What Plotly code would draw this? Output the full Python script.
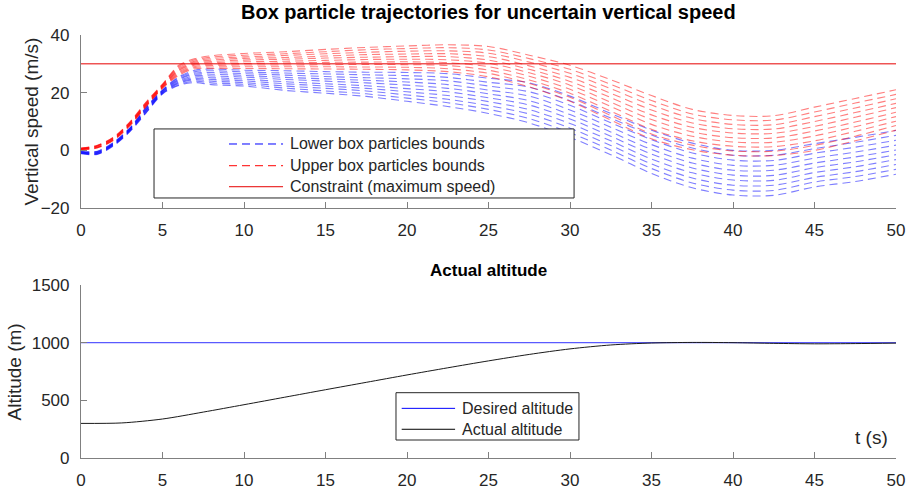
import plotly.graph_objects as go

# Sample times of the box particle bounds (s)
t_box = [0, 1, 2, 3, 4, 5, 6, 7, 8, 10, 12.5, 15, 17.5, 20, 22.5, 25,
         27.5, 30, 32.5, 35, 37.5, 40, 42.5, 45, 47.5, 50]

# Lower bounds of the vertical speed, one list per box particle (m/s)
lower_bounds = [
    [-1.2, -1.4, 1.6, 6.5, 13.0, 19.5, 22.5, 23.5, 22.8, 22.3, 20.8, 19.8, 18.7, 17.0, 15.2, 12.8, 9.5, 4.5, -1.5, -8.0, -13.0, -15.5, -15.6, -12.7, -10.8, -8.3],
    [-1.1, -1.3, 1.7, 6.6, 13.2, 19.7, 22.8, 24.0, 23.4, 22.9, 21.6, 20.6, 19.6, 18.1, 16.5, 14.2, 11.0, 6.1, 0.1, -6.3, -11.3, -13.8, -13.9, -11.0, -9.1, -6.6],
    [-1.0, -1.2, 1.9, 6.8, 13.4, 19.8, 23.2, 24.5, 24.0, 23.5, 22.3, 21.5, 20.6, 19.2, 17.7, 15.5, 12.6, 7.7, 1.7, -4.7, -9.6, -12.1, -12.1, -9.4, -7.4, -4.9],
    [-0.9, -1.0, 2.0, 6.9, 13.7, 20.0, 23.5, 24.9, 24.6, 24.1, 23.1, 22.3, 21.5, 20.3, 19.0, 16.9, 14.1, 9.3, 3.3, -3.0, -7.8, -10.3, -10.4, -7.7, -5.7, -3.2],
    [-0.8, -0.9, 2.1, 7.1, 13.9, 20.2, 23.8, 25.4, 25.2, 24.7, 23.8, 23.1, 22.4, 21.4, 20.3, 18.2, 15.7, 10.9, 4.9, -1.3, -6.1, -8.6, -8.7, -6.0, -4.0, -1.5],
    [-0.7, -0.8, 2.3, 7.2, 14.1, 20.3, 24.2, 25.9, 25.8, 25.4, 24.6, 24.0, 23.4, 22.6, 21.5, 19.6, 17.2, 12.4, 6.4, 0.3, -4.4, -6.9, -6.9, -4.4, -2.3, 0.1],
    [-0.6, -0.7, 2.4, 7.4, 14.3, 20.5, 24.5, 26.4, 26.4, 26.0, 25.3, 24.8, 24.3, 23.7, 22.8, 20.9, 18.8, 14.0, 8.0, 2.0, -2.7, -5.2, -5.2, -2.7, -0.6, 1.8],
    [-0.5, -0.5, 2.5, 7.5, 14.6, 20.7, 24.8, 26.8, 27.0, 26.6, 26.1, 25.6, 25.2, 24.8, 24.1, 22.3, 20.3, 15.6, 9.6, 3.7, -0.9, -3.4, -3.5, -1.0, 1.1, 3.5],
    [-0.4, -0.4, 2.7, 7.7, 14.8, 20.8, 25.2, 27.3, 27.6, 27.2, 26.8, 26.5, 26.2, 25.9, 25.3, 23.6, 21.9, 17.2, 11.2, 5.3, 0.8, -1.7, -1.7, 0.6, 2.8, 5.2],
    [-0.3, -0.3, 2.8, 7.8, 15.0, 21.0, 25.5, 27.8, 28.2, 27.8, 27.6, 27.3, 27.1, 27.0, 26.6, 25.0, 23.4, 18.8, 12.8, 7.0, 2.5, 0.0, 0.0, 2.3, 4.5, 6.9],
]

# Upper bounds of the vertical speed, one list per box particle (m/s)
upper_bounds = [
    [0.2, 0.8, 3.5, 8.5, 15.2, 21.5, 26.0, 28.3, 28.4, 28.4, 28.3, 28.2, 28.1, 27.9, 27.3, 25.5, 22.0, 17.0, 10.5, 4.0, 0.2, -1.7, -1.8, 0.0, 3.3, 7.0],
    [0.3, 0.9, 3.6, 8.7, 15.4, 21.7, 26.4, 28.7, 28.9, 29.0, 29.0, 29.0, 28.9, 28.8, 28.3, 26.7, 23.2, 18.4, 12.1, 5.7, 1.8, -0.2, -0.3, 1.7, 4.9, 8.6],
    [0.3, 1.0, 3.7, 8.8, 15.6, 21.8, 26.8, 29.1, 29.4, 29.6, 29.6, 29.7, 29.8, 29.7, 29.4, 27.8, 24.4, 19.8, 13.6, 7.3, 3.3, 1.4, 1.3, 3.3, 6.6, 10.1],
    [0.4, 1.1, 3.9, 9.0, 15.7, 22.0, 27.2, 29.5, 29.9, 30.1, 30.3, 30.5, 30.6, 30.7, 30.4, 29.0, 25.7, 21.2, 15.2, 9.0, 4.9, 2.9, 2.8, 5.0, 8.2, 11.7],
    [0.5, 1.2, 4.0, 9.1, 15.9, 22.2, 27.6, 29.9, 30.4, 30.7, 30.9, 31.2, 31.5, 31.6, 31.4, 30.2, 26.9, 22.6, 16.7, 10.7, 6.4, 4.4, 4.3, 6.7, 9.8, 13.2],
    [0.5, 1.4, 4.1, 9.3, 16.1, 22.3, 27.9, 30.2, 30.8, 31.3, 31.6, 32.0, 32.3, 32.5, 32.5, 31.3, 28.1, 23.9, 18.3, 12.3, 8.0, 6.0, 5.9, 8.3, 11.5, 14.8],
    [0.6, 1.5, 4.2, 9.4, 16.3, 22.5, 28.3, 30.6, 31.3, 31.9, 32.2, 32.7, 33.2, 33.4, 33.5, 32.5, 29.3, 25.3, 19.8, 14.0, 9.5, 7.5, 7.4, 10.0, 13.1, 16.3],
    [0.7, 1.6, 4.4, 9.6, 16.4, 22.7, 28.7, 31.0, 31.8, 32.4, 32.9, 33.5, 34.0, 34.4, 34.5, 33.7, 30.6, 26.7, 21.4, 15.7, 11.1, 9.0, 8.9, 11.7, 14.7, 17.9],
    [0.7, 1.7, 4.5, 9.7, 16.6, 22.8, 29.1, 31.4, 32.3, 33.0, 33.5, 34.2, 34.9, 35.3, 35.6, 34.8, 31.8, 28.1, 22.9, 17.3, 12.6, 10.6, 10.5, 13.3, 16.4, 19.4],
    [0.8, 1.8, 4.6, 9.9, 16.8, 23.0, 29.5, 31.8, 32.8, 33.6, 34.2, 35.0, 35.7, 36.2, 36.6, 36.0, 33.0, 29.5, 24.5, 19.0, 14.2, 12.1, 12.0, 15.0, 18.0, 21.0],
]

speed_limit = 30          # m/s
t_range = [0, 50]

# Altitude response
t_alt = [0, 2.5, 5, 7.5, 10, 12.5, 15, 17.5, 20, 22.5, 25, 27.5, 30,
         32.5, 35, 37.5, 40, 42.5, 45, 47.5, 50]
altitude = [300, 304, 338, 398, 462, 527, 592, 656, 720, 782, 842, 898, 946,
            980, 997, 1002, 1000, 994, 990, 992, 996]
altitude_target = 1000    # m

x_ticks = [0, 5, 10, 15, 20, 25, 30, 35, 40, 45, 50]
speed_ticks = [-20, 0, 20, 40]
alt_ticks = [0, 500, 1000, 1500]

FONT = "Liberation Sans, Arial, Helvetica, sans-serif"
AXIS_GRAY = "#808080"
TEXT_GRAY = "#262626"
BLUE_DASH = "rgba(0,0,255,0.5)"
RED_DASH = "rgba(255,0,0,0.5)"
DASH = "8px,5px"

fig = go.Figure()

for lb in lower_bounds:
    fig.add_trace(go.Scatter(
        x=t_box, y=lb, mode="lines", xaxis="x", yaxis="y",
        line=dict(color=BLUE_DASH, width=1.1, dash=DASH, shape="spline", smoothing=0.9),
        name="Lower box particles bounds", showlegend=False, hoverinfo="skip"))

for ub in upper_bounds:
    fig.add_trace(go.Scatter(
        x=t_box, y=ub, mode="lines", xaxis="x", yaxis="y",
        line=dict(color=RED_DASH, width=1.1, dash=DASH, shape="spline", smoothing=0.9),
        name="Upper box particles bounds", showlegend=False, hoverinfo="skip"))

fig.add_trace(go.Scatter(
    x=t_range, y=[speed_limit, speed_limit], mode="lines", xaxis="x", yaxis="y",
    line=dict(color="rgb(230,0,0)", width=1),
    name="Constraint (maximum speed)", showlegend=False, hoverinfo="skip"))

fig.add_trace(go.Scatter(
    x=t_range, y=[altitude_target, altitude_target], mode="lines", xaxis="x2", yaxis="y2",
    line=dict(color="rgb(90,90,255)", width=1.2),
    name="Desired altitude", showlegend=False, hoverinfo="skip"))

fig.add_trace(go.Scatter(
    x=t_alt, y=altitude, mode="lines", xaxis="x2", yaxis="y2",
    line=dict(color="#1a1a1a", width=1, shape="spline", smoothing=0.8),
    name="Actual altitude", showlegend=False, hoverinfo="skip"))

axis_common = dict(
    showline=True, linecolor=AXIS_GRAY, linewidth=1.2,
    ticks="inside", ticklen=6, tickcolor=AXIS_GRAY, tickwidth=1,
    showgrid=False, zeroline=False, mirror=False, automargin=False,
    tickfont=dict(family=FONT, size=17, color=TEXT_GRAY),
)

fig.update_layout(
    template="none",
    width=909, height=490,
    margin=dict(l=81, r=13, t=35, b=32, autoexpand=False),
    paper_bgcolor="white", plot_bgcolor="white",
    showlegend=False,
    xaxis=dict(domain=[0, 1], anchor="y", range=t_range, tickvals=x_ticks,
               ticklabelstandoff=6, **axis_common),
    yaxis=dict(domain=[0.591, 1.0], anchor="x", range=[-20, 40], tickvals=speed_ticks,
               ticklabelstandoff=7, **axis_common),
    xaxis2=dict(domain=[0, 1], anchor="y2", range=t_range, tickvals=x_ticks,
                ticklabelstandoff=6, **axis_common),
    yaxis2=dict(domain=[0, 0.409], anchor="x2", range=[0, 1500], tickvals=alt_ticks,
                ticklabelstandoff=7, **axis_common),
)

shapes = []
annotations = []

# Titles and axis labels
annotations += [
    dict(text="<b>Box particle trajectories for uncertain vertical speed</b>",
         xref="paper", yref="paper", x=0.5, y=1.054, xanchor="center", yanchor="middle",
         showarrow=False, font=dict(family=FONT, size=20, color="black")),
    dict(text="<b>Actual altitude</b>",
         xref="paper", yref="paper", x=0.5, y=0.444, xanchor="center", yanchor="middle",
         showarrow=False, font=dict(family=FONT, size=17, color="black")),
    dict(text="Vertical speed (m/s)", textangle=-90,
         xref="paper", yref="y domain", x=-0.0613, y=0.5, xanchor="center", yanchor="middle",
         showarrow=False, font=dict(family=FONT, size=19, color=TEXT_GRAY)),
    dict(text="Altitude (m)", textangle=-90,
         xref="paper", yref="y2 domain", x=-0.081, y=0.5, xanchor="center", yanchor="middle",
         showarrow=False, font=dict(family=FONT, size=19, color=TEXT_GRAY)),
    dict(text="t (s)",
         xref="x2 domain", yref="y2 domain", x=0.9926, y=0.121, xanchor="right", yanchor="middle",
         showarrow=False, font=dict(family=FONT, size=19, color=TEXT_GRAY)),
]

# Legend of the speed panel
shapes.append(dict(type="rect", xref="x domain", yref="y domain",
                   x0=0.0896, x1=0.605, y0=0.058, y1=0.457,
                   fillcolor="white", line=dict(color=TEXT_GRAY, width=1), layer="above"))
speed_legend = [
    ("Lower box particles bounds", "rgb(0,0,255)", DASH, 0.370),
    ("Upper box particles bounds", "rgb(255,0,0)", DASH, 0.2445),
    ("Constraint (maximum speed)", "rgb(230,0,0)", "solid", 0.123),
]
for label, color, dash, yy in speed_legend:
    shapes.append(dict(type="line", xref="x domain", yref="y domain",
                       x0=0.1816, x1=0.2479, y0=yy, y1=yy,
                       line=dict(color=color, width=1, dash=dash), layer="above"))
    annotations.append(dict(text=label, xref="x domain", yref="y domain",
                            x=0.254, y=yy, xanchor="left", yanchor="middle",
                            showarrow=False, font=dict(family=FONT, size=16, color=TEXT_GRAY)))

# Legend of the altitude panel
shapes.append(dict(type="rect", xref="x2 domain", yref="y2 domain",
                   x0=0.3865, x1=0.611, y0=0.104, y1=0.3775,
                   fillcolor="white", line=dict(color=TEXT_GRAY, width=1), layer="above"))
alt_legend = [
    ("Desired altitude", "rgb(0,0,255)", 0.287),
    ("Actual altitude", "black", 0.166),
]
for label, color, yy in alt_legend:
    shapes.append(dict(type="line", xref="x2 domain", yref="y2 domain",
                       x0=0.3935, x1=0.459, y0=yy, y1=yy,
                       line=dict(color=color, width=1), layer="above"))
    annotations.append(dict(text=label, xref="x2 domain", yref="y2 domain",
                            x=0.465, y=yy, xanchor="left", yanchor="middle",
                            showarrow=False, font=dict(family=FONT, size=16, color=TEXT_GRAY)))

fig.update_layout(shapes=shapes, annotations=annotations)

fig.write_html("out.html")
